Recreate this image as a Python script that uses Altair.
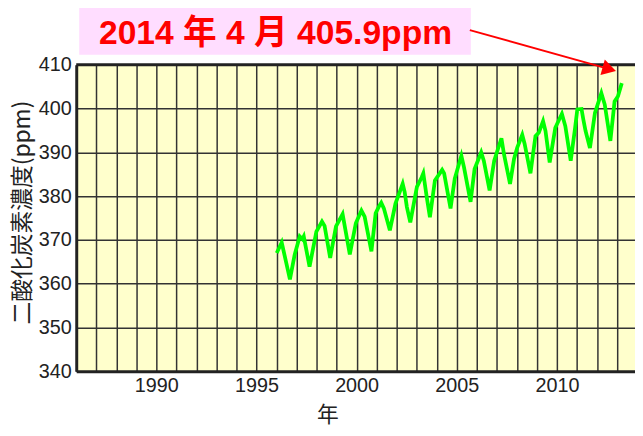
import altair as alt
import pandas as pd

# ---- data (decimal year, ppm) ----
years = [1996.01, 1996.26, 1996.47, 1996.67, 1996.91, 1997.16, 1997.29, 1997.36, 1997.65, 1997.99,
         1998.27, 1998.40, 1998.68, 1998.97, 1999.30, 1999.66, 1999.96, 2000.24, 2000.40, 2000.74,
         2000.95, 2001.11, 2001.23, 2001.36, 2001.66, 2001.94, 2002.18, 2002.30, 2002.40, 2002.51,
         2002.68, 2003.01, 2003.25, 2003.33, 2003.50, 2003.66, 2003.91, 2004.27, 2004.37, 2004.69,
         2004.90, 2005.23, 2005.36, 2005.69, 2005.89, 2006.22, 2006.35, 2006.64, 2006.87, 2007.23,
         2007.36, 2007.66, 2007.86, 2008.02, 2008.27, 2008.39, 2008.68, 2008.93, 2009.10, 2009.31,
         2009.43, 2009.64, 2009.92, 2010.25, 2010.42, 2010.69, 2010.91, 2011.02, 2011.23, 2011.32,
         2011.43, 2011.65, 2011.90, 2012.22, 2012.39, 2012.67, 2012.88, 2013.05, 2013.24]
co2 = [367.0, 369.4, 365.1, 361.0, 366.7, 370.8, 370.2, 370.8, 363.9, 371.9,
       374.2, 373.2, 365.9, 373.1, 375.9, 366.7, 373.8, 376.7, 375.3, 367.4,
       376.1, 377.6, 378.5, 377.2, 372.2, 378.3, 381.3, 382.8, 380.9, 377.5,
       374.0, 382.1, 384.3, 385.2, 379.8, 375.2, 383.6, 386.0, 385.2, 377.2,
       384.0, 389.2, 386.6, 378.7, 386.2, 390.0, 388.1, 381.3, 388.1, 393.2,
       389.5, 382.8, 388.5, 391.1, 394.0, 391.9, 385.2, 393.7, 394.5, 397.1,
       394.9, 387.7, 395.6, 398.8, 396.0, 388.1, 395.6, 399.8, 399.9, 397.5,
       394.9, 391.0, 399.0, 403.5, 400.9, 392.6, 401.6, 402.8, 405.8]

y_ticks = [340, 350, 360, 370, 380, 390, 400, 410]
grid_years = list(range(1986, 2014))
title_text = "2014 年 4 月  405.9ppm"
y_title = "二酸化炭素濃度(ppm)"
x_title = "年"

W, H = 565, 310

df = pd.DataFrame({"year": years, "co2": co2})
one = alt.Data(values=[{"a": 1}])

x_scale = alt.Scale(domain=[1986, 2013.9], nice=False, zero=False)
y_scale = alt.Scale(domain=[340, 410], nice=False, zero=False)

line = alt.Chart(df).mark_line(color="#00FF00", strokeWidth=3.8).encode(
    x=alt.X("year:Q", scale=x_scale,
            axis=alt.Axis(values=grid_years, format="d",
                          labelExpr="datum.value % 5 === 0 ? datum.label : ''",
                          labelOverlap=False, ticks=False,
                          labelFont="Liberation Sans", labelFontSize=20, labelColor="#222",
                          labelPadding=4,
                          domainWidth=3, domainColor="#222",
                          gridColor="#333", gridWidth=1.5, gridOpacity=1,
                          title=x_title, titleFont="Noto Sans CJK JP", titleFontSize=22,
                          titleFontWeight="normal", titleColor="#222",
                          titleX=254, titleY=44, titleAlign="center", titleBaseline="middle")),
    y=alt.Y("co2:Q", scale=y_scale,
            axis=alt.Axis(values=y_ticks, ticks=False,
                          labelFont="Liberation Sans", labelFontSize=20, labelColor="#222",
                          labelPadding=5,
                          domainWidth=3, domainColor="#222",
                          gridColor="#333", gridWidth=1.5, gridOpacity=1,
                          title=y_title, titleFont="Noto Sans CJK JP", titleFontSize=23,
                          titleFontWeight="normal", titleColor="#222",
                          titleAngle=270, titleX=-54, titleY=149,
                          titleAlign="center", titleBaseline="middle")),
)

top_border = alt.Chart(one).mark_rule(color="#222", strokeWidth=3).encode(
    x=alt.value(0), x2=alt.value(W), y=alt.value(0))

box = alt.Chart(one).mark_rect(color="#FFDDFF").encode(
    x=alt.value(3), x2=alt.value(399), y=alt.value(-60), y2=alt.value(-10))

label = alt.Chart(one).mark_text(
    text=title_text, color="#FF0000", font="Liberation Sans, Noto Sans CJK JP",
    fontSize=34, fontWeight="bold", align="left", baseline="alphabetic").encode(
    x=alt.value(23), y=alt.value(-21))

arrow_line = alt.Chart(one).mark_rule(color="#FF0000", strokeWidth=2).encode(
    x=alt.value(398), y=alt.value(-35), x2=alt.value(541), y2=alt.value(5))

arrow_head = alt.Chart(one).mark_point(
    shape="triangle-right", filled=True, color="#FF0000", opacity=1, size=260, angle=15.7).encode(
    x=alt.value(539), y=alt.value(4.5))

chart = alt.layer(box, label, line, top_border, arrow_line, arrow_head).properties(
    width=W, height=H,
    autosize=alt.AutoSizeParams(type="none"),
    padding={"left": 69, "top": 55, "right": 0, "bottom": 55},
).configure_view(fill="#FFFFCC", stroke="transparent")

chart.save("out.html", embed_options={"renderer": "svg", "actions": False})
